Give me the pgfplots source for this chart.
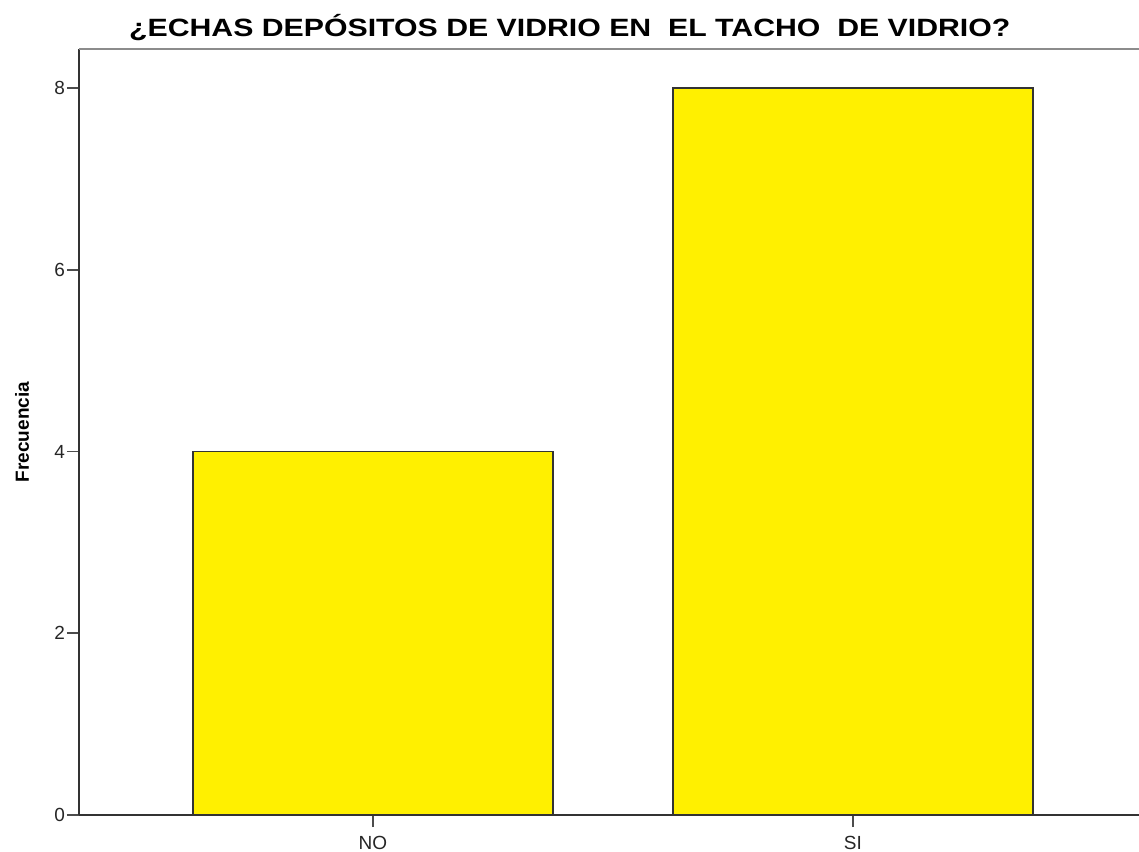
\documentclass[border=0pt]{standalone}
\usepackage{fontspec}
\setmainfont{Liberation Sans}
\usepackage{graphicx}
\usepackage{pgfplots}
\pgfplotsset{compat=1.18}
\definecolor{barYellow}{RGB}{255,240,0}

\begin{document}
\begin{tikzpicture}
\begin{axis}[
    scale only axis,
    width=530pt, height=383pt,
    xmin=-0.6125, xmax=1.596,
    ymin=0, ymax=8.43,
    axis x line*=bottom, axis y line*=left,
    axis line style={black!80, line width=0.9pt},
    xtick={0,1}, xticklabels={NO,SI},
    ytick={0,2,4,6,8},
    tick align=outside,
    major tick length=6pt,
    tick style={black!70, line width=0.8pt},
    tick label style={font=\fontsize{9.5}{10}\selectfont, text=black!85},
    xticklabel style={yshift=-1pt},
    yticklabel style={xshift=2.5pt},
    /pgf/number format/assume math mode=true,
    clip=false,
]
\addplot[ybar, bar width=0.75, fill=barYellow, draw=black!80, line width=0.7pt]
    coordinates {(0,4) (1,8)};
\draw[black!45, line width=0.9pt] (rel axis cs:0,1) -- (rel axis cs:1,1);
\node[font=\bfseries\fontsize{12.5}{14}\selectfont, anchor=base]
    at (rel axis cs:0.463,1) [yshift=6pt] {\scalebox{1.21}[1]{¿ECHAS DEPÓSITOS DE VIDRIO EN\ \ EL TACHO\ \ DE VIDRIO?}};
\coordinate (sw) at (rel axis cs:0,0);
\coordinate (ml) at (rel axis cs:0,0.5);
\coordinate (ne) at (rel axis cs:1,1);
\end{axis}
\node[font=\bfseries\fontsize{9.5}{11}\selectfont, rotate=90]
    at ([xshift=-28.5pt]ml) {Frecuencia};
\pgfresetboundingbox
\path ([shift={(-39.5pt,-18pt)}]sw) rectangle ([shift={(0pt,24.5pt)}]ne);
\end{tikzpicture}
\end{document}
